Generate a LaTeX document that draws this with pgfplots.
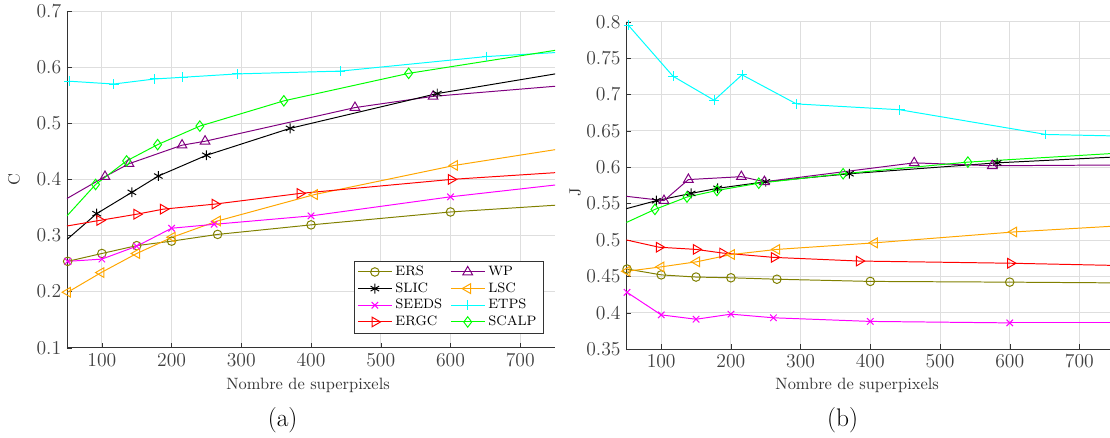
\documentclass[border=0pt]{standalone}
\usepackage{pgfplots}
\pgfplotsset{compat=1.18}
\definecolor{molive}{rgb}{0.5,0.5,0}
\definecolor{mpurple}{rgb}{0.5,0,0.5}
\definecolor{morange}{rgb}{1,0.65,0}
\definecolor{mgreen}{rgb}{0,1,0}
\definecolor{mcyan}{rgb}{0,1,1}
\definecolor{mmag}{rgb}{1,0,1}
\pgfplotsset{
  base/.style={
    scale only axis, xmin=50, xmax=750,
    axis x line*=bottom, axis y line*=left,
    axis line style={black!80},
    tick align=inside, major tick length=3pt,
    tick style={black!80},
    grid=major, grid style={black!13, line width=0.5pt},
    xtick={100,200,...,700},
    tick label style={color=black!75, font=\fontsize{11.5}{13}\selectfont},
    label style={color=black!80},
    yticklabel style={/pgf/number format/.cd, fixed, precision=2},
    every axis plot/.append style={line width=0.6pt},
    legend image code/.code={\draw[mark repeat=2,mark phase=2] plot coordinates {(0cm,0cm)(0.36cm,0cm)(0.72cm,0cm)};},
  },
  ers/.style={color=molive, mark=o, mark size=2.6pt},
  slic/.style={color=black, mark=asterisk, mark size=3pt},
  seeds/.style={color=mmag, mark=x, mark size=2.8pt},
  ergc/.style={color=red, mark=triangle, mark size=3.4pt, mark options={rotate=-90}},
  wp/.style={color=mpurple, mark=triangle, mark size=3.4pt},
  lsc/.style={color=morange, mark=triangle, mark size=3.4pt, mark options={rotate=90}},
  etps/.style={color=mcyan, mark=+, mark size=3pt},
  scalp/.style={color=mgreen, mark=diamond, mark size=3.2pt},
  ext/.style={forget plot, no marks},
}
\begin{document}
\begin{tikzpicture}
\path[use as bounding box] (0,0) rectangle (676.8pt,266.5pt);
% ---------------- (a) ----------------
\begin{axis}[base,
  at={(40.85pt,54.45pt)}, anchor=south west,
  width=297.6pt, height=205.3pt,
  ymin=0.1, ymax=0.7, ytick={0.1,0.2,...,0.71},
  xlabel={Nombre de superpixels}, ylabel={C},
  xlabel style={at={(axis description cs:0.494,0)}, anchor=center, yshift=-22.7pt},
  ylabel style={at={(axis description cs:0,0.5)}, anchor=center, yshift=32.3pt},
  legend columns=2,
  legend style={at={(0.976,0.043)}, anchor=south east, draw=black!80, fill=white,
    font=\fontsize{8.3}{9.5}\selectfont, row sep=-1.2pt, inner xsep=2pt, inner ysep=1pt,
    /tikz/every even column/.append style={column sep=3pt}},
  legend cell align=left,
]
\addplot[ers] coordinates {(51,0.254)(100,0.268)(150,0.282)(200,0.290)(266,0.302)(400,0.319)(600,0.342)};
\addlegendentry{ERS}
\addplot[wp] coordinates {(104.5,0.405)(139,0.428)(215,0.461)(248,0.468)(463,0.528)(575,0.548)};
\addlegendentry{WP}
\addplot[slic] coordinates {(92.5,0.339)(143,0.377)(181,0.406)(250,0.443)(370,0.491)(581,0.553)};
\addlegendentry{SLIC}
\addplot[lsc] coordinates {(51,0.199)(99,0.234)(150,0.268)(201,0.297)(266,0.326)(405,0.373)(606,0.425)};
\addlegendentry{LSC}
\addplot[seeds] coordinates {(51,0.254)(100,0.258)(150,0.281)(200,0.313)(261,0.320)(400,0.335)(600,0.369)};
\addlegendentry{SEEDS}
\addplot[etps] coordinates {(53,0.575)(117,0.570)(176,0.579)(216,0.582)(294,0.588)(442,0.593)(652,0.619)};
\addlegendentry{ETPS}
\addplot[ergc] coordinates {(97,0.327)(150,0.338)(188,0.347)(262,0.356)(384,0.375)(601,0.400)};
\addlegendentry{ERGC}
\addplot[scalp] coordinates {(91,0.391)(135.5,0.433)(180,0.462)(240.5,0.495)(361,0.540)(540,0.589)};
\addlegendentry{SCALP}
% extensions to the axis edges
\addplot[ers,ext] coordinates {(600,0.342)(750,0.354)};
\addplot[slic,ext] coordinates {(50,0.293)(92.5,0.339)};
\addplot[slic,ext] coordinates {(581,0.553)(750,0.588)};
\addplot[seeds,ext] coordinates {(600,0.369)(750,0.390)};
\addplot[ergc,ext] coordinates {(50,0.317)(97,0.327)};
\addplot[ergc,ext] coordinates {(601,0.400)(750,0.412)};
\addplot[wp,ext] coordinates {(50,0.366)(104.5,0.405)};
\addplot[wp,ext] coordinates {(575,0.548)(750,0.566)};
\addplot[lsc,ext] coordinates {(606,0.425)(750,0.453)};
\addplot[etps,ext] coordinates {(652,0.619)(750,0.626)};
\addplot[scalp,ext] coordinates {(50,0.335)(91,0.391)};
\addplot[scalp,ext] coordinates {(540,0.589)(750,0.630)};
\end{axis}
% ---------------- (b) ----------------
\begin{axis}[base,
  at={(381.9pt,53.66pt)}, anchor=south west,
  width=297.5pt, height=199.6pt,
  ymin=0.35, ymax=0.8, ytick={0.35,0.4,...,0.81},
  xlabel={Nombre de superpixels}, ylabel={J},
  xlabel style={at={(axis description cs:0.473,0)}, anchor=center, yshift=-22pt},
  ylabel style={at={(axis description cs:0,0.48)}, anchor=center, yshift=31.2pt},
]
\addplot[ers] coordinates {(51,0.460)(100,0.452)(150,0.449)(200,0.448)(266,0.446)(400,0.443)(600,0.442)};
\addplot[slic] coordinates {(93,0.554)(143,0.564)(181,0.571)(250,0.580)(370,0.591)(582,0.606)};
\addplot[seeds] coordinates {(51,0.428)(100,0.397)(150,0.391)(200,0.398)(261,0.393)(400,0.388)(600,0.386)};
\addplot[ergc] coordinates {(97,0.490)(150,0.487)(188,0.482)(262,0.476)(384,0.471)(601,0.468)};
\addplot[wp] coordinates {(104,0.554)(139,0.583)(215,0.587)(248,0.580)(463,0.606)(575,0.602)};
\addplot[lsc] coordinates {(51,0.457)(100,0.463)(151,0.470)(201,0.480)(266,0.487)(406,0.496)(606,0.511)};
\addplot[etps] coordinates {(53,0.795)(117,0.725)(176,0.692)(216,0.727)(294,0.687)(442,0.679)(652,0.645)};
\addplot[scalp] coordinates {(91,0.542)(137,0.559)(180,0.568)(240,0.578)(361,0.591)(540,0.607)};
\addplot[ers,ext] coordinates {(600,0.442)(750,0.441)};
\addplot[slic,ext] coordinates {(50,0.543)(93,0.554)};
\addplot[slic,ext] coordinates {(582,0.606)(750,0.614)};
\addplot[seeds,ext] coordinates {(600,0.386)(750,0.386)};
\addplot[ergc,ext] coordinates {(50,0.500)(97,0.490)};
\addplot[ergc,ext] coordinates {(601,0.468)(750,0.465)};
\addplot[wp,ext] coordinates {(50,0.560)(104,0.554)};
\addplot[wp,ext] coordinates {(575,0.602)(750,0.603)};
\addplot[lsc,ext] coordinates {(606,0.511)(750,0.519)};
\addplot[etps,ext] coordinates {(652,0.645)(750,0.643)};
\addplot[scalp,ext] coordinates {(50,0.524)(91,0.542)};
\addplot[scalp,ext] coordinates {(540,0.607)(750,0.619)};
\end{axis}
\node[font=\fontsize{15.5}{18}\selectfont] at (172.3pt,10.4pt) {(a)};
\node[font=\fontsize{15.5}{18}\selectfont] at (513.8pt,10.4pt) {(b)};
\end{tikzpicture}
\end{document}
